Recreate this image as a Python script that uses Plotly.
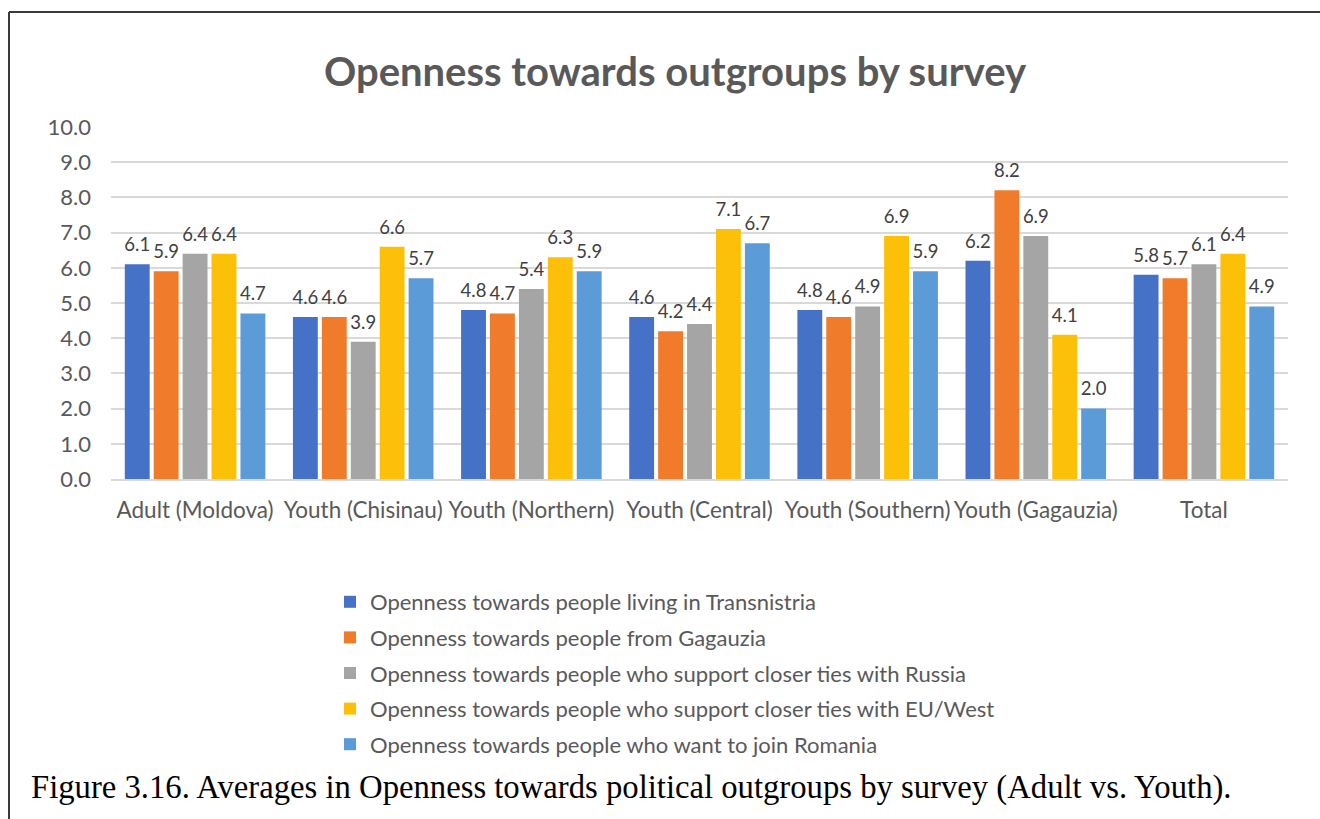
import plotly.graph_objects as go

# Survey groups along the category axis
categories = [
    "Adult (Moldova)", "Youth (Chisinau)", "Youth (Northern)", "Youth (Central)",
    "Youth (Southern)", "Youth (Gagauzia)", "Total",
]

# Average openness scores (0-10) per outgroup
transnistria = [6.1, 4.6, 4.8, 4.6, 4.8, 6.2, 5.8]
gagauzia = [5.9, 4.6, 4.7, 4.2, 4.6, 8.2, 5.7]
russia_ties = [6.4, 3.9, 5.4, 4.4, 4.9, 6.9, 6.1]
eu_west_ties = [6.4, 6.6, 6.3, 7.1, 6.9, 4.1, 6.4]
join_romania = [4.7, 5.7, 5.9, 6.7, 5.9, 2.0, 4.9]

series_names = [
    "Openness towards people living in Transnistria",
    "Openness towards people from Gagauzia",
    "Openness towards people who support closer ties with Russia",
    "Openness towards people who support closer ties with EU/West",
    "Openness towards people who want to join Romania",
]
series_values = [transnistria, gagauzia, russia_ties, eu_west_ties, join_romania]
series_colors = ["#4571c7", "#ef7b2b", "#a5a5a5", "#fcc009", "#5b9bd7"]

y_ticks = [0, 1, 2, 3, 4, 5, 6, 7, 8, 9, 10]

W, H = 1320, 819
L, R, T, B = 111, 32, 127, 340
PW, PH = W - L - R, H - T - B
BAR_GAP = 0.14


def px_x(px):
    return (px - L) / PW


def px_y(py):
    return (H - B - py) / PH


TEXT_GREY = "#595959"
FONT = "Lato"

fig = go.Figure()
for i, (name, vals, col) in enumerate(zip(series_names, series_values, series_colors)):
    fig.add_trace(go.Bar(
        x=categories,
        y=vals,
        name=name,
        legendgroup=f"g{i}",
        marker=dict(color=col, line=dict(width=0)),
        hovertemplate="%{x}<br>%{y:.1f}<extra></extra>",
    ))

# Value labels, grouped the same way as the bars so each sits over its bar
for i, (name, vals) in enumerate(zip(series_names, series_values)):
    fig.add_trace(go.Scatter(
        x=categories,
        y=vals,
        mode="markers+text",
        text=[f"{v:.1f}" for v in vals],
        textposition="top center",
        textfont=dict(family=FONT, size=18.5, color="#404040"),
        marker=dict(size=12, opacity=0),
        legendgroup=f"g{i}",
        showlegend=False,
        hoverinfo="skip",
        cliponaxis=False,
    ))

fig.update_layout(
    width=W, height=H,
    margin=dict(l=L, r=R, t=T, b=B, autoexpand=False),
    paper_bgcolor="white",
    plot_bgcolor="white",
    barmode="group",
    bargap=BAR_GAP,
    bargroupgap=0.14,
    scattermode="group",
    scattergap=BAR_GAP,
    title=dict(
        text="<b>Openness towards outgroups by survey</b>",
        font=dict(family=FONT, size=40, color=TEXT_GREY),
        x=675 / W, xanchor="center",
        y=1 - 72 / H, yanchor="middle",
    ),
    xaxis=dict(
        showgrid=False,
        showline=True, linecolor="#d9d9d9", linewidth=2,
        ticks="", ticklabelstandoff=10,
        tickfont=dict(family=FONT, size=22.5, color=TEXT_GREY),
    ),
    yaxis=dict(
        range=[0, 10],
        tickvals=y_ticks,
        tickformat=".1f",
        showgrid=True, gridcolor="#d9d9d9", gridwidth=1.5,
        zeroline=False, showline=False,
        ticks="", ticklabelstandoff=19,
        tickfont=dict(family=FONT, size=22, color=TEXT_GREY),
    ),
    legend=dict(
        orientation="v",
        x=px_x(330), xanchor="left",
        y=px_y(581), yanchor="top",
        font=dict(family=FONT, size=22, color=TEXT_GREY),
        tracegroupgap=4,
        bgcolor="rgba(0,0,0,0)",
        itemclick=False, itemdoubleclick=False,
    ),
    showlegend=True,
)

# Frame around the chart (left and top edges visible)
fig.add_shape(type="line", xref="paper", yref="paper",
              x0=px_x(9), x1=px_x(W + 5), y0=px_y(12), y1=px_y(12),
              line=dict(color="#3a3a3a", width=2))
fig.add_shape(type="line", xref="paper", yref="paper",
              x0=px_x(9), x1=px_x(9), y0=px_y(12), y1=px_y(H + 5),
              line=dict(color="#3a3a3a", width=2))

# Figure caption
fig.add_annotation(
    text="Figure 3.16. Averages in Openness towards political outgroups by survey (Adult vs. Youth).",
    xref="paper", yref="paper",
    x=px_x(29), xanchor="left",
    y=px_y(787), yanchor="middle",
    showarrow=False,
    font=dict(family="Liberation Serif", size=32.7, color="black"),
)

fig.write_html("out.html")
